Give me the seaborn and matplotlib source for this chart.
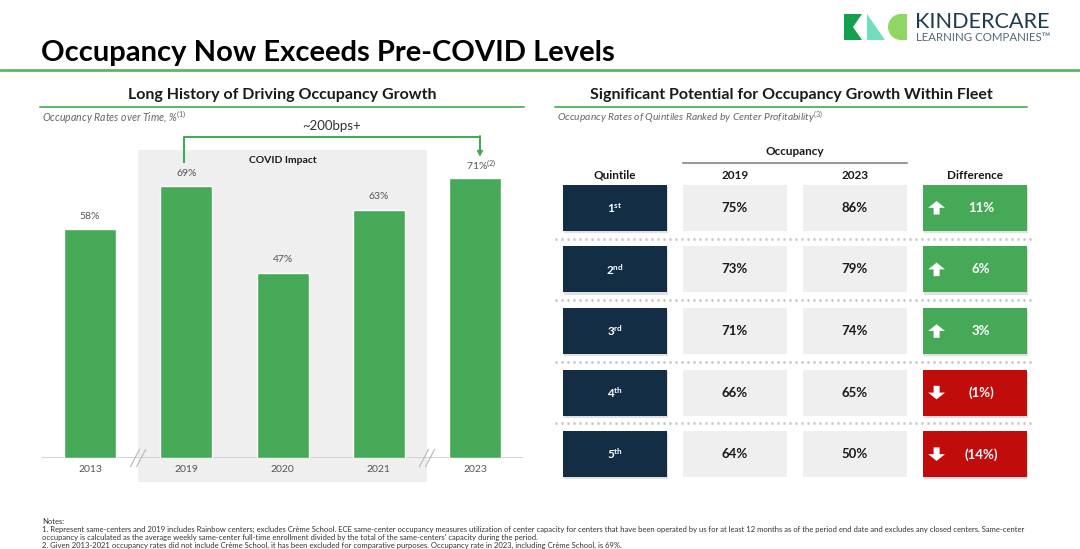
import matplotlib
matplotlib.use("Agg")
import matplotlib.pyplot as plt
from matplotlib.patches import Rectangle, Polygon, Wedge, FancyArrow
import seaborn as sns

# ---- data ----
years = ["2013", "2019", "2020", "2021", "2023"]
occupancy = [58, 69, 47, 63, 71]
bar_notes = ["", "", "", "", "(2)"]

quintiles = ["1", "2", "3", "4", "5"]
suffixes = ["st", "nd", "rd", "th", "th"]
occ_2019 = [75, 73, 71, 66, 64]
occ_2023 = [86, 79, 74, 65, 50]
difference = [11, 6, 3, -1, -14]

notes = [
    "Notes:",
    "1. Represent same-centers and 2019 includes Rainbow centers; excludes Crème School. ECE same-center occupancy measures utilization of center capacity for centers that have been operated by us for at least 12 months as of the period end date and excludes any closed centers. Same-center",
    "occupancy is calculated as the average weekly same-center full-time enrollment divided by the total of the same-centers' capacity during the period.",
    "2. Given 2013-2021 occupancy rates did not include Crème School, it has been excluded for comparative purposes. Occupancy rate in 2023, including Crème School, is 69%.",
]

GREEN = "#45A957"
NAVY = "#132D45"
RED = "#C10C0C"
CELL = "#EFEFEF"
DARK = "#1A1A1A"
GREY = "#555555"

sns.set_style("white")
plt.rcParams["font.family"] = ["Lato", "DejaVu Sans"]
plt.rcParams["mathtext.fontset"] = "custom"
plt.rcParams["mathtext.rm"] = "Lato"
plt.rcParams["mathtext.it"] = "Lato:italic"
plt.rcParams["mathtext.bf"] = "Lato:bold"

W, H = 1080, 549
fig = plt.figure(figsize=(W / 100, H / 100), dpi=100)
fig.patch.set_facecolor("white")

# background axes in pixel units for slide decorations
bg = fig.add_axes([0, 0, 1, 1], zorder=0)
bg.set_xlim(0, W)
bg.set_ylim(H, 0)
bg.axis("off")

bg.text(41, 53, "Occupancy Now Exceeds Pre-COVID Levels", fontsize=21,
        fontweight="bold", color="black", va="center", ha="left")
bg.plot([0, W], [69.5, 69.5], color="#5DB865", lw=2)

# logo
bg.add_patch(Polygon([(844, 14), (862, 14), (853, 27), (862, 40), (844, 40)],
                     closed=True, color="#15A04F", lw=0))
bg.add_patch(Polygon([(867, 14), (885, 40), (867, 40)], closed=True,
                     color="#72DDBA", lw=0))
bg.add_patch(Wedge((901, 27), 13, 90, 270, color="#8FD664", lw=0))
bg.add_patch(Rectangle((900.5, 14), 6.5, 26, color="#8FD664", lw=0))
bg.text(915, 22, "KINDERCARE", fontsize=15.6, color="#1F3D4C", va="center",
        ha="left")
bg.text(916, 37.5, "LEARNING COMPANIES\u2122", fontsize=8.3, color="#4E6B78",
        va="center", ha="left")

# section headers
bg.text(282, 95, "Long History of Driving Occupancy Growth", fontsize=11.5,
        fontweight="bold", color=DARK, ha="center", va="center")
bg.plot([40, 524], [106.5, 106.5], color="#5DB865", lw=1.4)
bg.text(42, 117, "Occupancy Rates over Time, %$^{(1)}$", fontsize=7.6,
        style="italic", color="#666666", ha="left", va="center")

bg.text(791, 95, "Significant Potential for Occupancy Growth Within Fleet",
        fontsize=11.5, fontweight="bold", color=DARK, ha="center", va="center")
bg.plot([555, 1027], [106.5, 106.5], color="#5DB865", lw=1.4)
bg.text(557, 117, "Occupancy Rates of Quintiles Ranked by Center Profitability$^{(3)}$",
        fontsize=7.4, style="italic", color="#666666", ha="left", va="center")

for i, line in enumerate(notes):
    bg.text(42, 521 + i * 8.3, line, fontsize=5.5, color="#333333",
            ha="left", va="center")

# ---- bar chart ----
px_per_unit = 3.94
ymax = 83
ax = fig.add_axes([41.8 / W, (H - 458) / H, 481.5 / W, ymax * px_per_unit / H],
                  zorder=1)
ax.set_facecolor("none")
sns.barplot(x=years, y=occupancy, color=GREEN, saturation=1, width=0.54,
            ax=ax, zorder=3)
ax.set_xlim(-0.5, len(years) - 0.5)
ax.set_ylim(0, ymax)
sns.despine(ax=ax, left=True, bottom=True)
ax.set_yticks([])
ax.set_xlabel("")
ax.set_ylabel("")
ax.tick_params(axis="x", length=0, pad=5, labelsize=7.5, labelcolor=GREY)
ax.axhline(0, color="#CFCFCF", lw=1.3, zorder=2)

# covid impact shaded region (2019-2021)
ax.add_patch(Rectangle((0.5, -6), 3.0, 84.2, color=CELL, lw=0, zorder=0,
                       clip_on=False))
ax.text(2, 75.6, "COVID Impact", fontsize=7.5, fontweight="bold", color=DARK,
        ha="center", va="center")

for i, (v, n) in enumerate(zip(occupancy, bar_notes)):
    lab = f"{v}%" if not n else f"{v}%$^{{{n}}}$"
    ax.text(i + (0.06 if n else 0), v + 3.3, lab, fontsize=7.5, color=GREY,
            ha="center", va="center")

# axis break marks
for xb in (0.5, 3.5):
    for dx in (-0.032, 0.032):
        ax.plot([xb + dx - 0.047, xb + dx + 0.047], [-2.2, 2.2],
                color="#BDBDBD", lw=0.9, clip_on=False, zorder=4)

# ~200bps bracket from 2019 to 2023
x0, x1 = 1 - 0.025, 4 + 0.05
ytop = max(occupancy) + 10.5
ax.plot([x0, x0, x1], [occupancy[1] + 6, ytop, ytop], color=GREEN, lw=1.5,
        clip_on=False, solid_capstyle="butt")
ax.annotate("", xy=(x1, occupancy[4] + 5.4), xytext=(x1, ytop + 0.2),
            arrowprops=dict(arrowstyle="-|>", color=GREEN, lw=1.5,
                            mutation_scale=7, shrinkA=0, shrinkB=0),
            annotation_clip=False)
ax.text((x0 + x1) / 2, ytop + 2.7, "~200bps+", fontsize=9.5, color="#333333",
        ha="center", va="center")

# ---- table ----
row_px = 61.6
tab = fig.add_axes([555 / W, (H - 485) / H, 480 / W, 345 / H], zorder=1)
tab.set_xlim(-0.5, 3.5)
tab.set_ylim(4.5, -1.1)
tab.axis("off")

cw, ch = 104 / 120, 46 / row_px

tab.text(1.5, -0.91, "Occupancy", fontsize=8.5, fontweight="bold", color=DARK,
         ha="center", va="center")
tab.plot([0.567, 2.433], [-0.72, -0.72], color="#9A9A9A", lw=1.5)
for c, h in enumerate(["Quintile", "2019", "2023", "Difference"]):
    tab.text(c, -0.53, h, fontsize=8.5, fontweight="bold", color=DARK,
             ha="center", va="center")

tab.hlines([r + 0.5 for r in range(len(quintiles) - 1)], -0.5, 3.5,
           colors="#BFBFBF", linestyles=(0, (0.8, 1.6)), lw=1.8)

def cell(c, r, color, shadow=False):
    if shadow:
        tab.add_patch(Rectangle((c - cw / 2 + 0.008, r - ch / 2 + 0.035), cw, ch,
                                color="#000000", alpha=0.12, lw=0, zorder=1))
    tab.add_patch(Rectangle((c - cw / 2, r - ch / 2), cw, ch, color=color,
                            lw=0, zorder=2))

for r in range(len(quintiles)):
    cell(0, r, NAVY, shadow=True)
    tab.text(0, r, rf"$\mathbf{{{quintiles[r]}}}^{{\mathbf{{{suffixes[r]}}}}}$",
             fontsize=8.5, color="white", ha="center", va="center", zorder=3)
    for c, vals in ((1, occ_2019), (2, occ_2023)):
        cell(c, r, CELL)
        tab.text(c, r, f"{vals[r]}%", fontsize=9.5, fontweight="bold", color=DARK,
                 ha="center", va="center", zorder=3)
    d = difference[r]
    cell(3, r, GREEN if d > 0 else RED, shadow=True)
    txt = f"{d}%" if d > 0 else f"({abs(d)}%)"
    tab.text(3.05, r, txt, fontsize=9.5, fontweight="bold", color="white",
             ha="center", va="center", zorder=3)
    # white arrow icon
    ax_x = 3 - 0.32
    if d > 0:
        tab.add_patch(FancyArrow(ax_x, r + 0.11, 0, -0.22, width=0.05,
                                 head_width=0.14, head_length=0.11,
                                 length_includes_head=True, color="white",
                                 lw=0, zorder=3))
    else:
        tab.add_patch(FancyArrow(ax_x, r - 0.11, 0, 0.22, width=0.05,
                                 head_width=0.14, head_length=0.11,
                                 length_includes_head=True, color="white",
                                 lw=0, zorder=3))

fig.savefig("out.png", dpi=100, facecolor="white")
